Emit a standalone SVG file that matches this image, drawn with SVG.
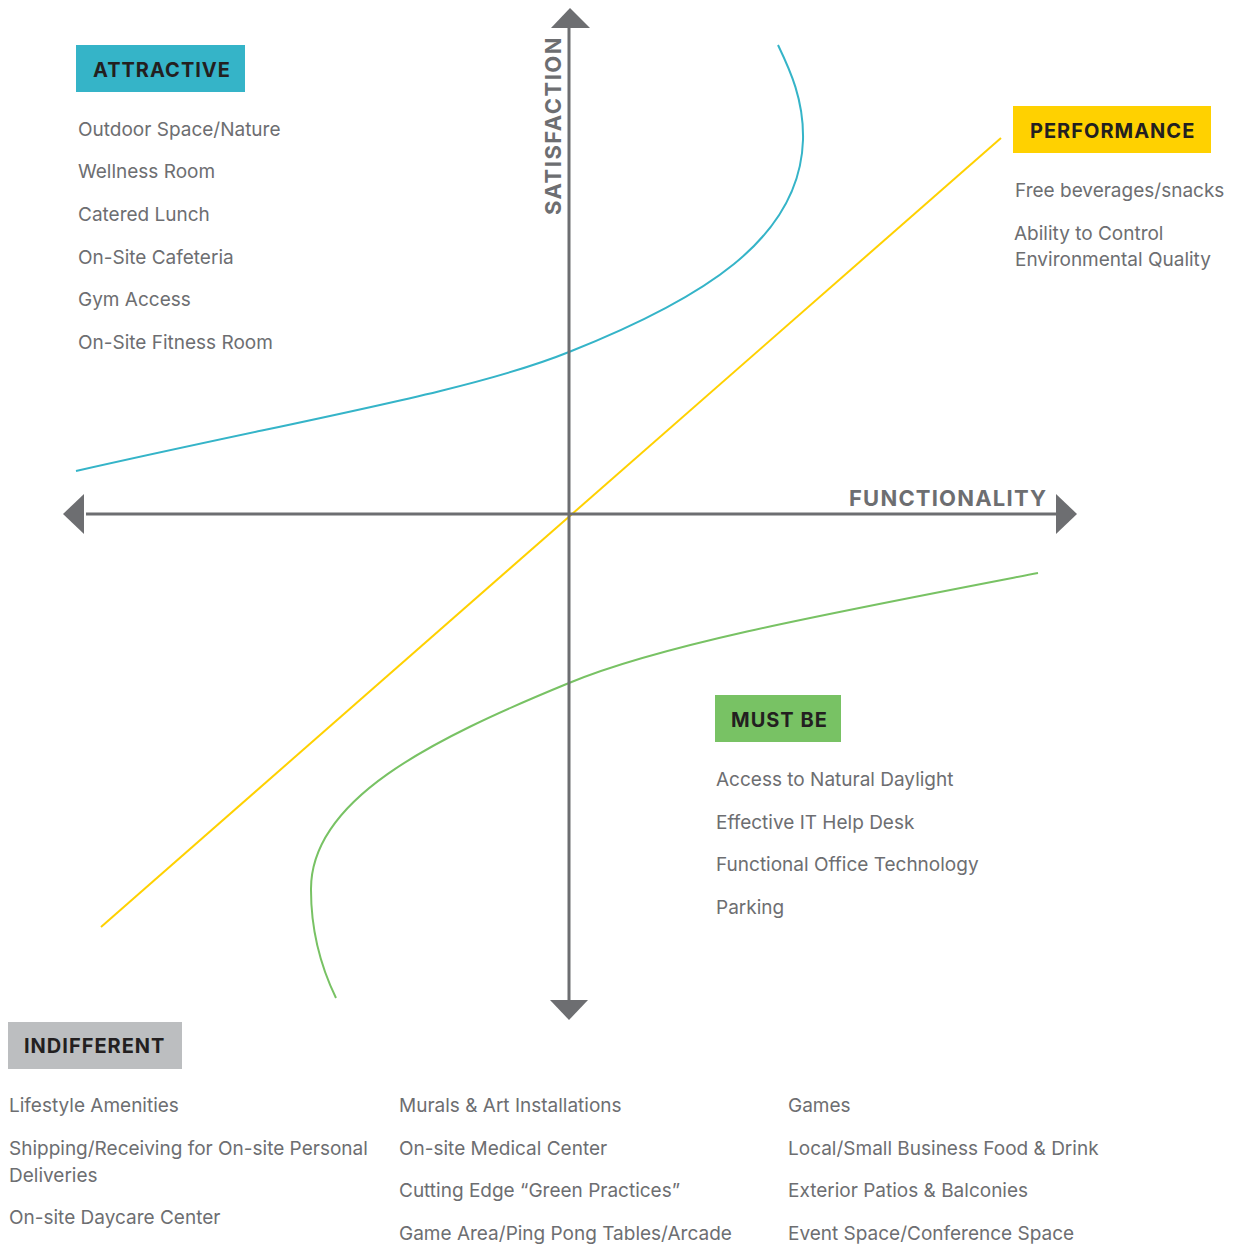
<svg xmlns="http://www.w3.org/2000/svg" width="1241" height="1245" viewBox="0 0 1241 1245">
  <style>
    .item { font-family: Inter, "Liberation Sans", sans-serif; font-size: 19px; fill: #6d6e71; }
    .tag { font-family: Inter, "Liberation Sans", sans-serif; font-size: 20px; font-weight: 700; fill: #231f20; letter-spacing: 1px; }
    .axis-label { font-family: Inter, "Liberation Sans", sans-serif; font-size: 22px; font-weight: 700; fill: #6d6e71; letter-spacing: 1.2px; }
    .axis { stroke: #6d6e71; stroke-width: 3; fill: none; }
    .head { fill: #6d6e71; }
    .curve { fill: none; stroke-width: 2; }
  </style>
  <rect width="1241" height="1245" fill="#ffffff"/>

  <!-- curves -->
  <g id="connectors">
    <path class="curve" stroke="#ffd100" d="M101,927 L1001,138"/>
    <path class="curve" stroke="#35b4c8" d="M76,471 C300,420 470,392 569,352 C700,300 800,240 803,140 C804,100 790,70 778,45"/>
    <path class="curve" stroke="#78c264" d="M1038,573 C820,615 660,645 569,683 C430,740 310,800 311,890 C311,930 320,965 336,998"/>
  </g>

  <!-- axes -->
  <g id="axes">
    <line class="axis" x1="569" y1="28" x2="569" y2="1000"/>
    <line class="axis" x1="86" y1="514" x2="1056" y2="514"/>
    <polygon class="head" points="570,8 590,28 551,28"/>
    <polygon class="head" points="550,1000 588,1000 569,1020"/>
    <polygon class="head" points="63,514 84,494 84,534"/>
    <polygon class="head" points="1056,494 1077,514 1056,534"/>
    <text class="axis-label" transform="translate(561,215) rotate(-90)" style="letter-spacing:1.5px">SATISFACTION</text>
    <text class="axis-label" x="849" y="506">FUNCTIONALITY</text>
  </g>

  <!-- attractive -->
  <g id="attractive">
    <rect x="76" y="45" width="169" height="47" fill="#35b4c8"/>
    <text class="tag" x="93" y="77">ATTRACTIVE</text>
    <text class="item" x="78" y="136">Outdoor Space/Nature</text>
    <text class="item" x="78" y="178">Wellness Room</text>
    <text class="item" x="78" y="221">Catered Lunch</text>
    <text class="item" x="78" y="264">On-Site Cafeteria</text>
    <text class="item" x="78" y="306">Gym Access</text>
    <text class="item" x="78" y="349">On-Site Fitness Room</text>
  </g>

  <!-- performance -->
  <g id="performance">
    <rect x="1013" y="106" width="198" height="47" fill="#ffd100"/>
    <text class="tag" x="1030" y="138">PERFORMANCE</text>
    <text class="item" x="1015" y="197">Free beverages/snacks</text>
    <text class="item" x="1014" y="240">Ability to Control</text>
    <text class="item" x="1015" y="266">Environmental Quality</text>
  </g>

  <!-- must be -->
  <g id="must-be">
    <rect x="715" y="695" width="126" height="47" fill="#78c264"/>
    <text class="tag" x="731" y="727">MUST BE</text>
    <text class="item" x="716" y="786">Access to Natural Daylight</text>
    <text class="item" x="716" y="829">Effective IT Help Desk</text>
    <text class="item" x="716" y="871">Functional Office Technology</text>
    <text class="item" x="716" y="914">Parking</text>
  </g>

  <!-- indifferent -->
  <g id="indifferent">
    <rect x="8" y="1022" width="174" height="47" fill="#bcbec0"/>
    <text class="tag" x="24" y="1053">INDIFFERENT</text>
    <text class="item" x="9" y="1112">Lifestyle Amenities</text>
    <text class="item" x="9" y="1155">Shipping/Receiving for On-site Personal</text>
    <text class="item" x="9" y="1182">Deliveries</text>
    <text class="item" x="9" y="1224">On-site Daycare Center</text>
    <text class="item" x="399" y="1112">Murals &amp; Art Installations</text>
    <text class="item" x="399" y="1155">On-site Medical Center</text>
    <text class="item" x="399" y="1197">Cutting Edge “Green Practices”</text>
    <text class="item" x="399" y="1240">Game Area/Ping Pong Tables/Arcade</text>
    <text class="item" x="788" y="1112">Games</text>
    <text class="item" x="788" y="1155">Local/Small Business Food &amp; Drink</text>
    <text class="item" x="788" y="1197">Exterior Patios &amp; Balconies</text>
    <text class="item" x="788" y="1240">Event Space/Conference Space</text>
  </g>
</svg>
